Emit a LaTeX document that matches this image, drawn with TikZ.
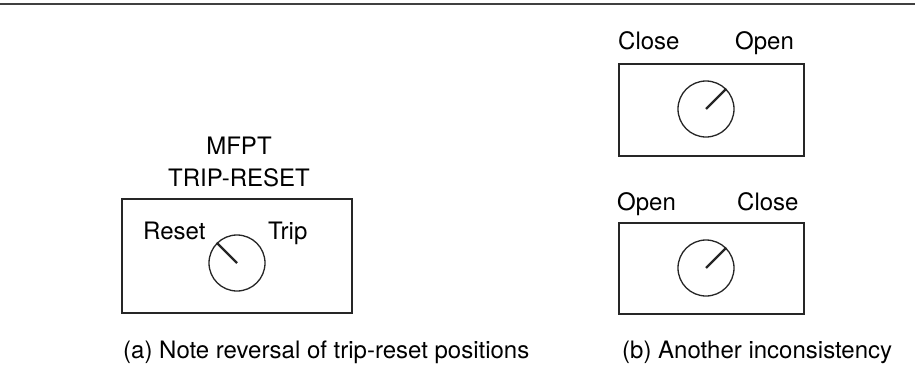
\documentclass[tikz,border=0pt]{standalone}
\usepackage{fontspec}
\setmainfont{TeX Gyre Heros}
\begin{document}
\begin{tikzpicture}[x=1pt,y=-1pt,
  lbl/.style={inner sep=0pt,anchor=base west,font=\fontsize{24}{28}\selectfont},
  lblc/.style={inner sep=0pt,anchor=base,font=\fontsize{24}{28}\selectfont},
  panel/.style={draw=black!85,line width=1.3pt},
  dial/.style={draw=black!85,line width=1.3pt,circle,minimum size=56pt,inner sep=0pt},
  needle/.style={draw=black!85,line width=2.2pt}]
\useasboundingbox (0,0) rectangle (915,373);
\draw[black!75,line width=2pt] (0,4) -- (915,4);
% (a)
\node[lblc] (mfpt) at (239,154) {MFPT};
\node[lblc] (trs) at (239,186) {TRIP-RESET};
\draw[panel] (122,199) rectangle (352,313);
\node[lbl] (reset) at (143,239) {Reset};
\node[lbl] (trip) at (268,239) {Trip};
\node[dial] (d1) at (237,263) {};
\draw[needle] (d1.center) -- (d1.135);
\node[lbl] (capa) at (123,358) {(a) Note reversal of trip-reset positions};
% (b)
\node[lbl] (close1) at (618,49) {Close};
\node[lbl] (open1) at (735,49) {Open};
\draw[panel] (619,64) rectangle (804,156);
\node[dial] (d2) at (706,109) {};
\draw[needle] (d2.center) -- (d2.45);
\node[lbl] (open2) at (617,210) {Open};
\node[lbl] (close2) at (737,210) {Close};
\draw[panel] (619,223) rectangle (804,314);
\node[dial] (d3) at (706,268) {};
\draw[needle] (d3.center) -- (d3.45);
\node[lbl] (capb) at (622,358) {(b) Another inconsistency};
\end{tikzpicture}
\end{document}
